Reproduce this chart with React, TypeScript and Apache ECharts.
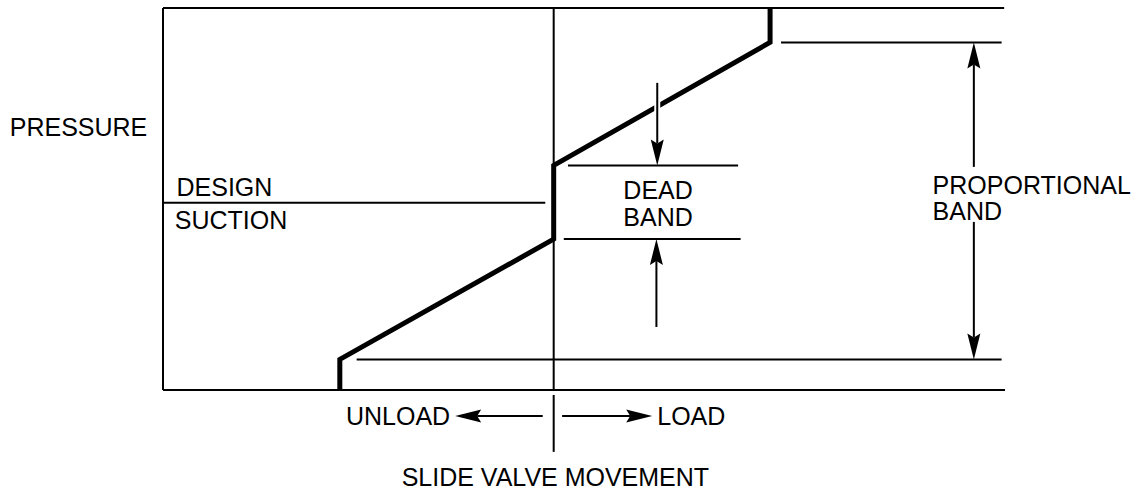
import React, { useEffect, useRef } from "react";
import * as echarts from "echarts";

// x: slide valve position (0–100), y: pressure (0–100)
const curveX = [21, 21, 46.4, 46.4, 72.1, 72.1];
const curveY = [0, 8, 39.5, 58.8, 91, 100];

const designSuction = 49;
const deadBandLow = 39.5;
const deadBandHigh = 58.8;
const propBandLow = 8;
const propBandHigh = 91;
const centerX = 46.4;

// thin straight segments [x1, y1, x2, y2]
const segments = [
  [0, 0, 100, 0],
  [0, 100, 99.9, 100],
  [0, 0, 0, 100],
  [0, designSuction, 45.4, designSuction],
  [48.1, deadBandHigh, 68.3, deadBandHigh],
  [47.6, deadBandLow, 68.6, deadBandLow],
  [73.4, propBandHigh, 99.6, propBandHigh],
  [23.0, propBandLow, 99.6, propBandLow],
  [centerX, 100, centerX, 0],
  [centerX, -1.3, centerX, -16.2],
];

// arrows [xFrom, yFrom, xTip, yTip]
const arrows = [
  [58.7, 80.4, 58.7, deadBandHigh],
  [58.6, 16.5, 58.6, deadBandLow],
  [96.3, 58.4, 96.3, propBandHigh],
  [96.3, 44.0, 96.3, propBandLow],
  [45.1, -6.8, 34.7, -6.8],
  [47.4, -6.8, 58.1, -6.8],
];

const labelTexts = [
  "PRESSURE",
  "DESIGN",
  "SUCTION",
  "DEAD",
  "BAND",
  "PROPORTIONAL",
  "BAND",
  "UNLOAD",
  "LOAD",
  "SLIDE VALVE MOVEMENT",
];
const labelX = [-18.2, 1.6, 1.4, 58.8, 58.8, 91.4, 91.4, 34.1, 58.7, 46.6];
const labelY = [68.8, 53.1, 44.5, 52.4, 45.3, 53.7, 46.9, -6.8, -6.8, -22.8];
const labelAlign = ["left", "left", "left", "center", "center", "left", "left", "right", "left", "center"];

const FONT = '"Liberation Sans", Arial, Helvetica, sans-serif';

export default function App() {
  const ref = useRef<HTMLDivElement>(null);
  useEffect(() => {
    if (!ref.current) return;
    const chart = echarts.init(ref.current, null, { renderer: "svg" });
    chart.setOption({
      animation: false,
      backgroundColor: "#ffffff",
      grid: { left: 163, right: 136, top: 8, bottom: 102 },
      xAxis: { type: "value", min: 0, max: 100, show: false },
      yAxis: { type: "value", min: 0, max: 100, show: false },
      series: [
        {
          type: "custom",
          z: 2,
          clip: false,
          encode: { x: [0, 2], y: [1, 3] },
          data: segments,
          renderItem: (params: any, api: any) => {
            const a = api.coord([api.value(0), api.value(1)]);
            const b = api.coord([api.value(2), api.value(3)]);
            return {
              type: "line",
              shape: { x1: a[0], y1: a[1], x2: b[0], y2: b[1] },
              style: { stroke: "#000", lineWidth: 2 },
            };
          },
        },
        {
          type: "line",
          z: 3,
          clip: false,
          showSymbol: false,
          symbol: "none",
          data: curveX.map((x, i) => [x, curveY[i]]),
          lineStyle: { color: "#000", width: 5, cap: "butt", join: "miter" },
        },
        {
          type: "custom",
          z: 5,
          clip: false,
          encode: { x: [0, 2], y: [1, 3] },
          data: arrows,
          renderItem: (params: any, api: any) => {
            const a = api.coord([api.value(0), api.value(1)]);
            const b = api.coord([api.value(2), api.value(3)]);
            const dx = b[0] - a[0];
            const dy = b[1] - a[1];
            const len = Math.hypot(dx, dy) || 1;
            const ux = dx / len;
            const uy = dy / len;
            const px = -uy;
            const py = ux;
            const L = 26;
            const W = 6.5;
            const N = 22;
            const base = [b[0] - ux * L, b[1] - uy * L];
            const notch = [b[0] - ux * N, b[1] - uy * N];
            return {
              type: "group",
              children: [
                {
                  type: "line",
                  shape: { x1: a[0], y1: a[1], x2: notch[0], y2: notch[1] },
                  style: { stroke: "#fff", lineWidth: 6 },
                },
                {
                  type: "line",
                  shape: { x1: a[0], y1: a[1], x2: notch[0], y2: notch[1] },
                  style: { stroke: "#000", lineWidth: 2 },
                },
                {
                  type: "polygon",
                  shape: {
                    points: [
                      [b[0], b[1]],
                      [base[0] + px * W, base[1] + py * W],
                      [notch[0], notch[1]],
                      [base[0] - px * W, base[1] - py * W],
                    ],
                  },
                  style: { fill: "#000" },
                },
              ],
            };
          },
        },
        {
          type: "custom",
          z: 6,
          clip: false,
          data: labelX.map((x, i) => [x, labelY[i]]),
          renderItem: (params: any, api: any) => {
            const p = api.coord([api.value(0), api.value(1)]);
            const i = params.dataIndex;
            return {
              type: "text",
              x: p[0],
              y: p[1],
              style: {
                text: labelTexts[i],
                fontSize: 25,
                fontFamily: FONT,
                fill: "#000",
                align: labelAlign[i],
                verticalAlign: "middle",
              },
            };
          },
        },
      ],
    });
    return () => chart.dispose();
  }, []);
  return (
    <div
      ref={ref}
      style={{ position: "fixed", left: 0, top: 0, width: 1141, height: 492 }}
    />
  );
}
